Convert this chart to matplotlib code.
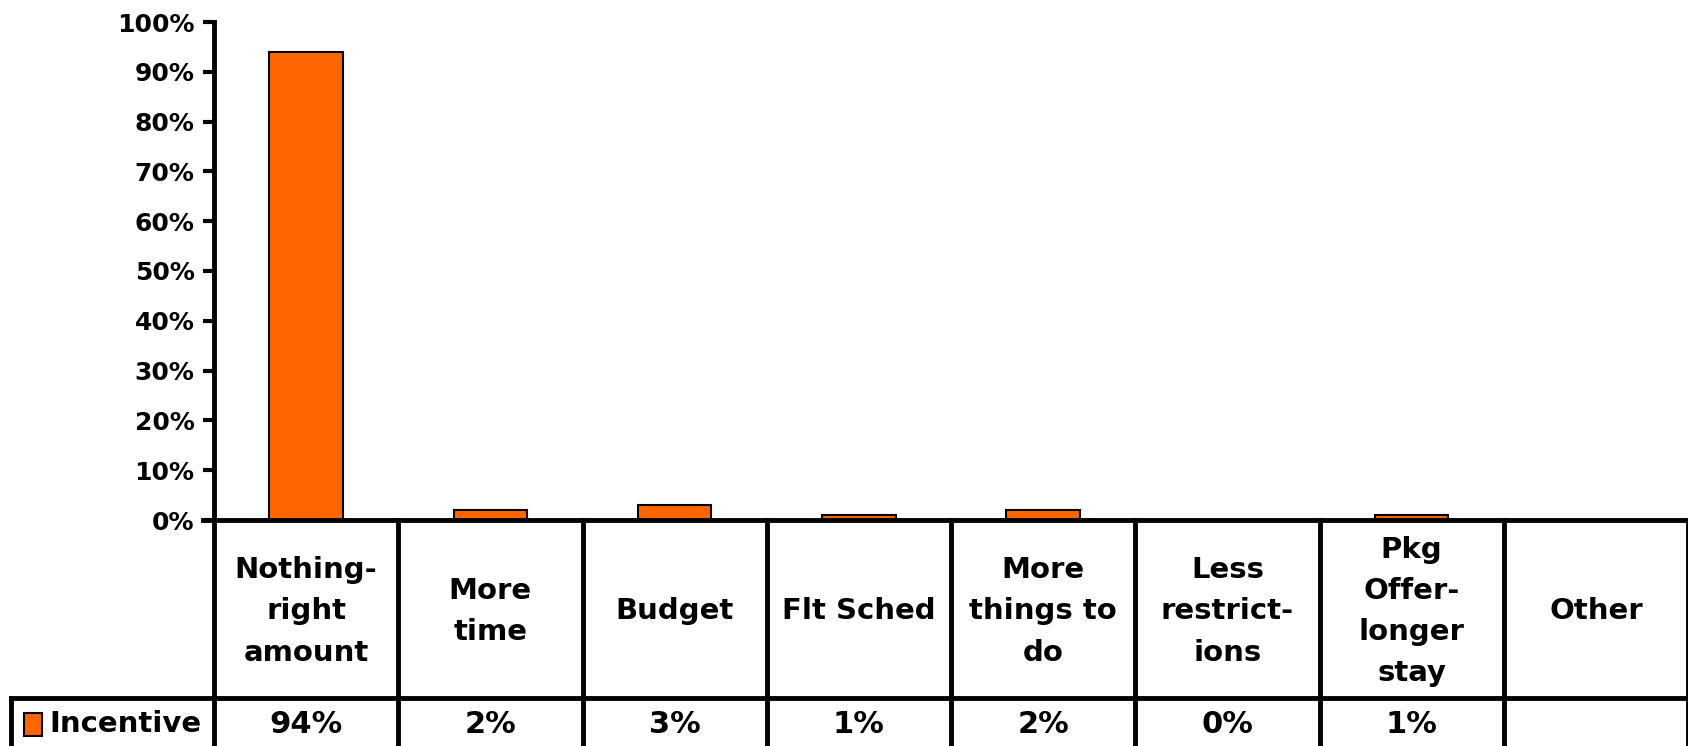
import matplotlib.pyplot as plt
from matplotlib.patches import Rectangle
from matplotlib.ticker import FuncFormatter

plt.rcParams['font.family'] = ['DejaVu Sans']
plt.rcParams['font.weight'] = 'bold'

# chart data
categories = ["Nothing-\nright\namount", "More\ntime", "Budget", "Flt Sched",
              "More\nthings to\ndo", "Less\nrestrict-\nions",
              "Pkg\nOffer-\nlonger\nstay", "Other"]
incentive = [94, 2, 3, 1, 2, 0, 1, None]
series_name = "Incentive"
bar_color = "#FF6600"

W, H = 1688, 746
fig = plt.figure(figsize=(W / 100, H / 100), dpi=100)

# pixel layout of the plot area
x0, y_top, y_zero, y_row, y_bot = 214, 22, 520, 698, 746
ax = fig.add_axes([x0 / W, (H - y_zero) / H, (W - x0) / W, (y_zero - y_top) / H])

n = len(categories)
xs = list(range(n))
ax.bar([x for x, v in zip(xs, incentive) if v is not None],
       [v for v in incentive if v is not None],
       width=0.4, color=bar_color, edgecolor="black", linewidth=1.5, zorder=3)

ax.set_xlim(-0.5, n - 0.5)
ax.set_ylim(0, 100)
ax.set_yticks(range(0, 101, 10))
ax.yaxis.set_major_formatter(FuncFormatter(lambda v, p: f"{int(v)}%"))
ax.tick_params(axis="y", labelsize=18, width=3, length=8, pad=6)
ax.set_xticks([])
for s in ["top", "right", "bottom"]:
    ax.spines[s].set_visible(False)
ax.spines["left"].set_linewidth(3.5)

# data table under the chart, in axes units for y
ph = y_zero - y_top
yr = -(y_row - y_zero) / ph
yb = -(y_bot - y_zero) / ph
tr = ax.get_xaxis_transform()
lw = 3.5
col = 184

ax.plot([-0.5 - 0.06, n - 0.5], [0, 0], transform=tr, color="black", lw=lw,
        clip_on=False, zorder=4)
xl = -0.5 - (x0 - 11) / col
ax.plot([xl, n - 0.5], [yr, yr], transform=tr, color="black", lw=lw,
        clip_on=False)
for i in range(n + 1):
    ax.plot([i - 0.5, i - 0.5], [0, yb], transform=tr, color="black", lw=lw,
            clip_on=False)
ax.plot([xl, xl], [yr, yb], transform=tr, color="black", lw=lw, clip_on=False)

for i, (c, v) in enumerate(zip(categories, incentive)):
    ax.text(i, yr / 2 - 0.005, c, transform=tr, ha="center", va="center",
            fontsize=21, fontweight="bold", linespacing=1.6, clip_on=False)
    if v is not None:
        ax.text(i, (yr + yb) / 2 - 0.005, f"{v}%", transform=tr, ha="center",
                va="center", fontsize=22, fontweight="bold", clip_on=False)

# legend key in the row header
ym = (yr + yb) / 2 - 0.005
ax.add_patch(Rectangle((xl + 0.07, ym - 0.024), 0.1, 0.048,
                       transform=tr, facecolor=bar_color, edgecolor="black",
                       lw=1.5, clip_on=False))
ax.text(xl + 0.21, ym, series_name, transform=tr, ha="left",
        va="center", fontsize=21, fontweight="bold", clip_on=False)

fig.savefig("out.png", dpi=100)
